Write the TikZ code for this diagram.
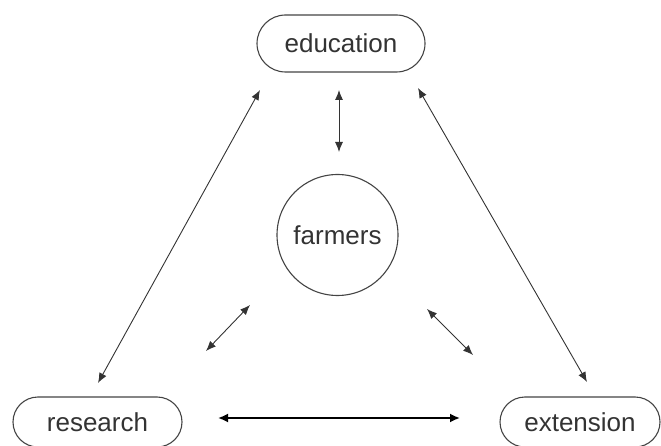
\documentclass[tikz,border=0pt]{standalone}
\usepackage{fontspec}
\setmainfont{Liberation Sans}
\usetikzlibrary{arrows.meta,shapes.misc}
\definecolor{ink}{HTML}{333333}
\definecolor{rim}{HTML}{444444}
\begin{document}
\begin{tikzpicture}[x=1pt,y=-1pt,
  every node/.style={font=\fontsize{26}{30}\selectfont, text=ink},
  pill/.style={rounded rectangle, draw=rim, line width=1.1pt, inner sep=0pt},
  hub/.style={circle, draw=rim, line width=1.1pt, inner sep=0pt, minimum size=121pt},
  link/.style={draw=ink, line width=0.9pt,
    {Latex[length=10pt,width=8pt]}-{Latex[length=10pt,width=8pt]}},
  boldlink/.style={draw=black, line width=1.8pt,
    {Latex[length=10pt,width=9pt]}-{Latex[length=10pt,width=9pt]}}]
  \useasboundingbox (0,0) rectangle (661,446);

  % the four parties
  \node[pill, minimum width=168pt, minimum height=57pt] (edu) at (341,43.5) {education};
  \node[pill, minimum width=169pt, minimum height=50pt] (res) at (97.5,422) {research};
  \node[pill, minimum width=160pt, minimum height=50pt] (ext) at (580,422) {extension};
  \node[hub] (farm) at (337.5,235) {farmers};

  % free ends of the two-way links
  \coordinate (eduSW) at (260,90);
  \coordinate (eduS)  at (339,90);
  \coordinate (eduSE) at (418,88);
  \coordinate (farmN) at (339,152);
  \coordinate (farmSW) at (250,305);
  \coordinate (farmSE) at (427,309);
  \coordinate (resNE) at (98,383);
  \coordinate (resIn) at (206,351);
  \coordinate (resE)  at (218,418);
  \coordinate (extNW) at (587,382);
  \coordinate (extIn) at (473,355);
  \coordinate (extW)  at (460,418);

  % links
  \draw[link] (eduSW) -- (resNE);
  \draw[link] (eduSE) -- (extNW);
  \draw[link] (eduS) -- (farmN);
  \draw[link] (farmSW) -- (resIn);
  \draw[link] (farmSE) -- (extIn);
  \draw[boldlink] (resE) -- (extW);
\end{tikzpicture}
\end{document}
